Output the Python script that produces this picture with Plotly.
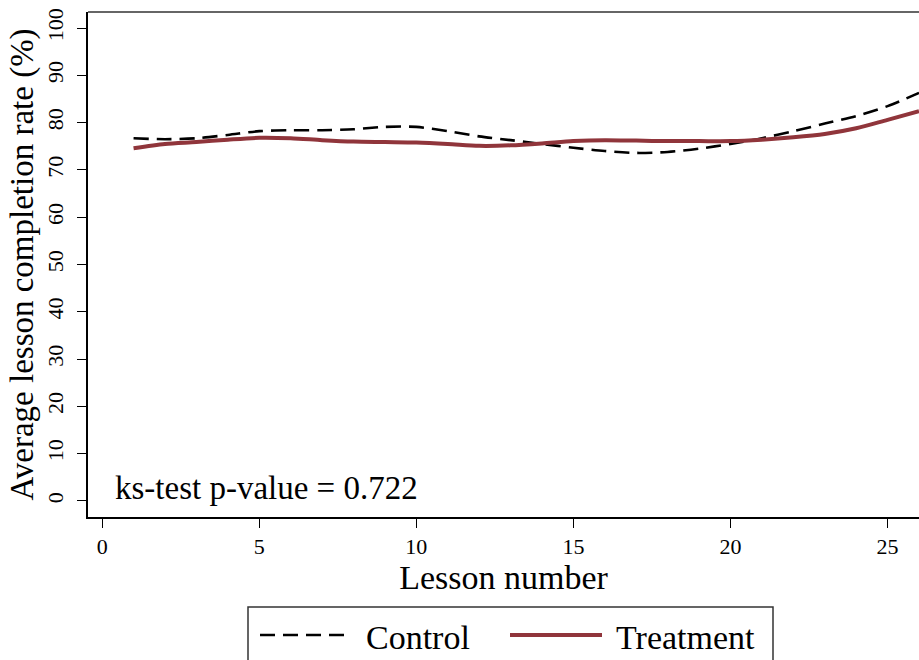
import plotly.graph_objects as go

# Average lesson completion rate by lesson, per study arm
lessons = list(range(1, 27))
control = [76.7, 76.5, 76.7, 77.4, 78.2, 78.4, 78.4, 78.6, 79.1, 79.1,
           78.2, 77.1, 76.3, 75.5, 74.7, 74.0, 73.6, 73.8, 74.5, 75.5,
           76.7, 78.2, 79.8, 81.4, 83.5, 86.3]
treatment = [74.6, 75.5, 75.9, 76.4, 76.8, 76.7, 76.3, 76.0, 75.9, 75.8,
             75.5, 75.1, 75.2, 75.6, 76.1, 76.3, 76.2, 76.1, 76.1, 76.1,
             76.4, 76.9, 77.6, 78.8, 80.6, 82.4]
x_ticks = [0, 5, 10, 15, 20, 25]
y_ticks = list(range(0, 101, 10))
ks_label = "ks-test p-value = 0.722"

W, H = 919, 660
L, T, R, B = 88, 12, 0, 143
PW, PH = W - L - R, H - T - B
SERIF = "Liberation Serif"
MAROON = "rgb(144,53,59)"


def px(xp):
    return (xp - L) / PW


def py(yp):
    return (H - B - yp) / PH


fig = go.Figure()
fig.add_trace(go.Scatter(x=lessons, y=control, mode="lines", name="Control",
                         line=dict(color="black", width=2.6, dash="15px,8px",
                                   shape="spline", smoothing=0.8)))
fig.add_trace(go.Scatter(x=lessons, y=treatment, mode="lines", name="Treatment",
                         line=dict(color=MAROON, width=4,
                                   shape="spline", smoothing=0.8)))

axis_common = dict(showgrid=False, zeroline=False, showline=True,
                   linecolor="black", linewidth=2, ticks="outside",
                   ticklen=9, tickwidth=1.3, tickcolor="black",
                   tickfont=dict(family=SERIF, size=22, color="black"))

fig.update_xaxes(range=[-0.45, 26.0], tickvals=x_ticks, **axis_common,
                 title=dict(text="Lesson number", standoff=0,
                            font=dict(family=SERIF, size=34, color="black")))
fig.update_yaxes(range=[-3.4, 103.4], tickvals=y_ticks, tickangle=-90,
                 ticklabelstandoff=5, **axis_common,
                 title=dict(text="Average lesson completion rate (%)", standoff=0,
                            font=dict(family=SERIF, size=33, color="black")))

shapes = [
    # top border of the plotting area
    dict(type="line", xref="paper", yref="paper", x0=0, x1=1, y0=1, y1=1,
         line=dict(color="#333333", width=1.5)),
    # legend frame
    dict(type="rect", xref="paper", yref="paper", x0=px(248), x1=px(773),
         y0=py(607), y1=py(675), line=dict(color="#333333", width=1.5),
         fillcolor="white"),
    dict(type="line", xref="paper", yref="paper", x0=px(260), x1=px(350),
         y0=py(635), y1=py(635),
         line=dict(color="black", width=2.6, dash="15px,8px")),
    dict(type="line", xref="paper", yref="paper", x0=px(510), x1=px(602),
         y0=py(635), y1=py(635), line=dict(color=MAROON, width=4)),
]

annotations = [
    dict(text=ks_label, xref="paper", yref="paper", x=px(113), y=py(488),
         xanchor="left", yanchor="middle", showarrow=False,
         font=dict(family=SERIF, size=33, color="black")),
    dict(text="Control", xref="paper", yref="paper", x=px(364), y=py(637),
         xanchor="left", yanchor="middle", showarrow=False,
         font=dict(family=SERIF, size=34, color="black")),
    dict(text="Treatment", xref="paper", yref="paper", x=px(614), y=py(637),
         xanchor="left", yanchor="middle", showarrow=False,
         font=dict(family=SERIF, size=34, color="black")),
]

fig.update_layout(width=W, height=H, margin=dict(l=L, r=R, t=T, b=B),
                  paper_bgcolor="white", plot_bgcolor="white",
                  showlegend=False, shapes=shapes, annotations=annotations)

fig.write_html("out.html")
